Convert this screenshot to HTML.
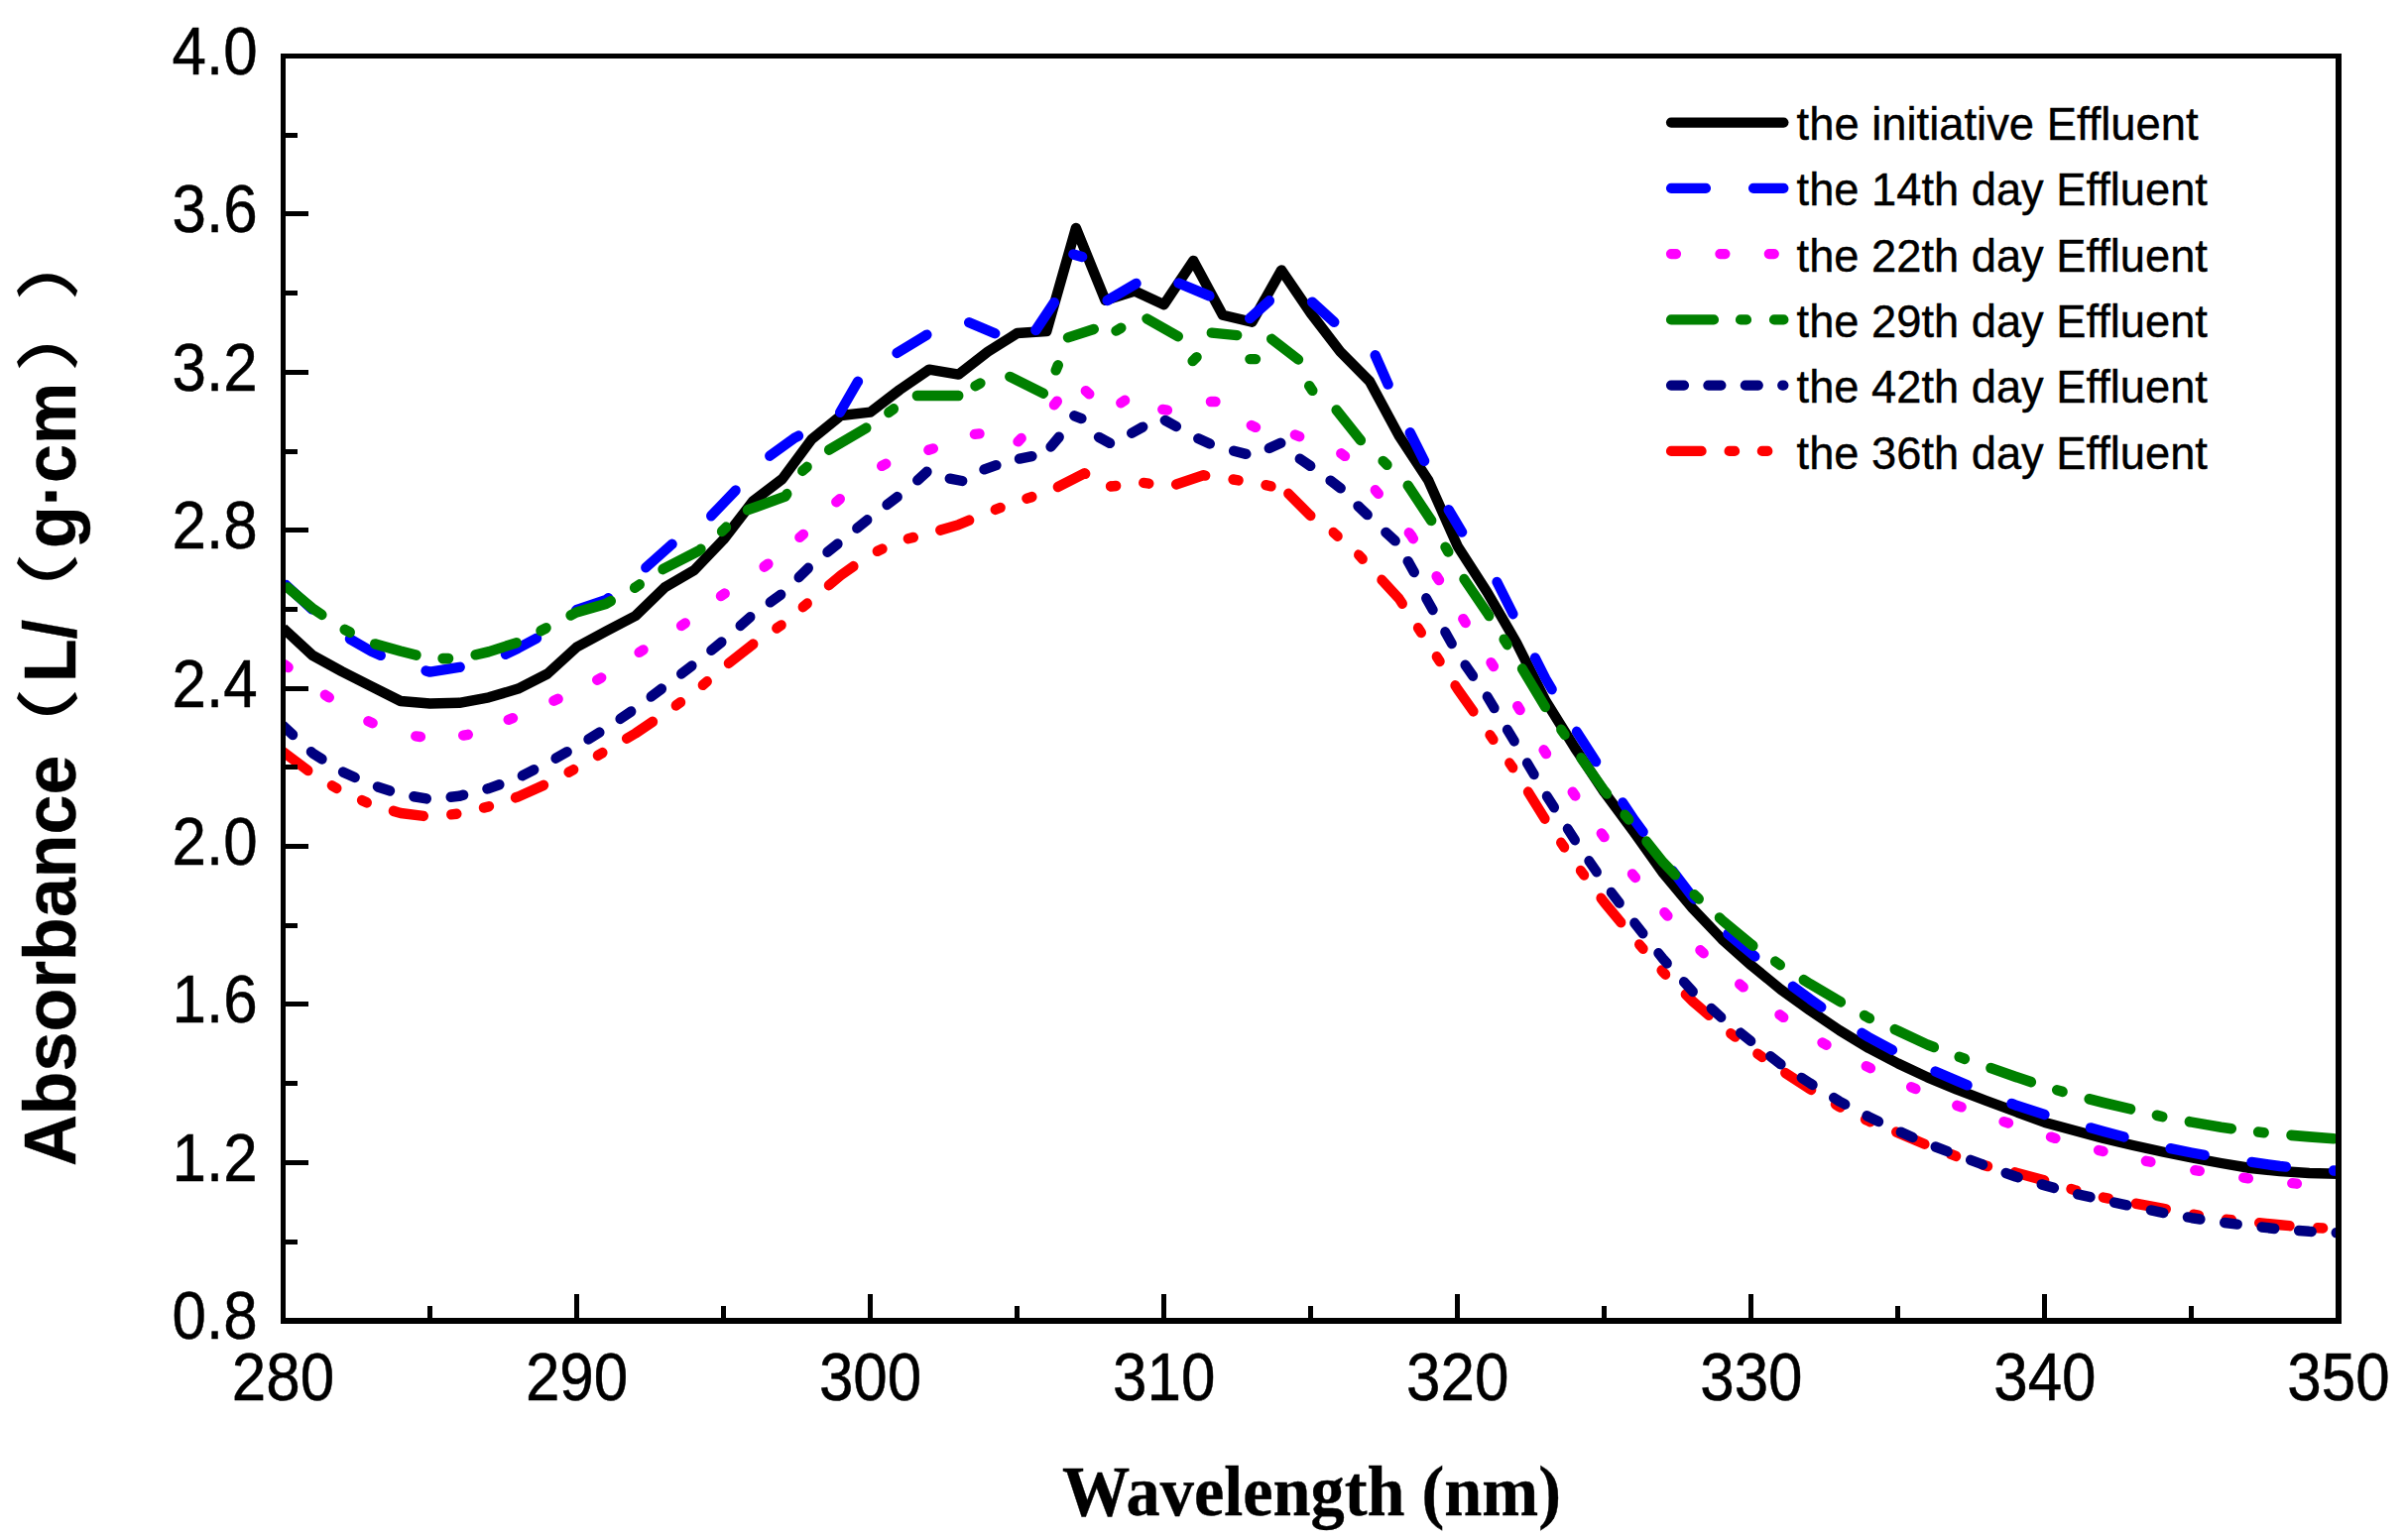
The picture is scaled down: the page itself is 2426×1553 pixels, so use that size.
<!DOCTYPE html>
<html lang="en"><head><meta charset="utf-8"><title>UV absorbance of effluent</title>
<style>html,body{margin:0;padding:0;background:#fff}body{width:2426px;height:1553px;overflow:hidden}svg{display:block}text{fill:#000}</style></head><body>
<svg width="2426" height="1553" viewBox="0 0 2426 1553">
<rect width="2426" height="1553" fill="#fff"/>
<defs><clipPath id="plot"><rect x="285.5" y="56.5" width="2072.5" height="1275.3"/></clipPath></defs>
<g clip-path="url(#plot)" fill="none" stroke-linejoin="round">
<polyline id="c-black" points="285.5,633.5 315.1,660.9 344.7,677.1 374.3,692.1 403.9,707.0 433.5,709.5 463.1,708.8 492.8,703.3 522.4,694.6 552.0,679.5 581.6,652.5 611.2,636.5 640.8,621.0 670.4,592.3 700.0,575.0 729.6,544.0 759.2,505.5 788.8,483.0 818.4,443.0 848.0,419.0 877.6,415.7 907.2,393.0 936.9,372.6 966.5,377.6 996.1,354.6 1025.7,336.0 1055.3,334.0 1084.9,230.0 1114.5,302.9 1144.1,293.5 1173.7,307.2 1203.3,262.9 1232.9,317.8 1262.5,324.7 1292.1,272.4 1321.8,316.0 1351.4,354.6 1381.0,384.5 1410.6,439.4 1440.2,484.3 1469.8,551.0 1499.4,597.0 1529.0,648.0 1558.6,707.0 1588.2,754.5 1617.8,799.0 1647.4,839.0 1677.0,880.5 1706.6,916.0 1736.2,947.0 1765.9,973.5 1795.5,997.7 1825.1,1019.0 1854.7,1039.0 1884.3,1057.0 1913.9,1072.5 1943.5,1086.4 1973.1,1098.7 2002.7,1110.0 2032.3,1121.0 2061.9,1132.0 2091.5,1140.0 2121.1,1148.0 2150.8,1155.0 2180.4,1161.5 2210.0,1167.5 2239.6,1173.0 2269.2,1178.0 2298.8,1181.0 2328.4,1183.0 2358.0,1183.8" stroke="#000000" stroke-width="10.4" stroke-linecap="butt"/>
<g id="c-blue" stroke="#0000ff" stroke-linecap="round">
<g transform="scale(1,1.040)" stroke-width="10" stroke-dasharray="35 48">
<polyline points="285.5,564.71 315.1,591.15 344.7,615.10 374.3,631.44 403.9,643.85 433.5,651.54 463.1,647.02 492.8,642.31 522.4,628.56 552.0,613.46 581.6,591.35 611.2,581.73 642.3,557.98 677.2,528.01 712.1,505.23 739.6,477.65 773.2,444.08 800.7,424.90 845.6,402.12 864.8,370.23 900.4,344.57 930.3,327.07 936.6,323.47" stroke-dashoffset="-4"/>
<polyline points="1509.4,564.33 1529.0,601.92 1558.6,658.27 1588.2,707.02 1617.8,751.35 1647.4,794.52 1677.0,832.50 1706.6,869.71 1736.2,900.77 1765.9,924.52 1795.5,947.98 1825.1,968.85 1854.7,988.75 1884.3,1005.77 1913.9,1021.15 1943.5,1035.58 1973.1,1047.98 2002.7,1060.00 2032.3,1071.63 2061.9,1080.77 2091.5,1089.23 2121.1,1097.12 2150.8,1104.81 2180.4,1112.12 2210.0,1117.79 2239.6,1122.79 2269.2,1126.73 2298.8,1130.77 2328.4,1133.46 2358.0,1135.38" stroke-dashoffset="0"/>
</g>
<path d="M977.2 325.3L1003.2 336.3M1044.4 333.0L1062.9 305.2M1082.4 256.4L1091.1 259.0M1116.6 303.0L1145.5 285.9M1188.5 285.5L1219.4 298.4M1260.2 321.1L1279.9 303.3M1323.1 304.6L1345.3 324.8M1386.7 358.3L1399.6 387.6M1421.8 436.3L1436.1 464.9M1460.7 514.2L1474.1 536.6" stroke-width="10.4"/>
</g>
<g id="c-magenta" stroke="#ff00ff" stroke-linecap="round">
<path d="M286.9 670.3L290.6 673.0M327.9 700.8L331.8 703.3M371.4 727.3L375.6 729.2M419.3 742.4L423.9 743.0M467.2 741.6L471.8 740.8M512.7 725.8L517.0 724.2M558.4 706.7L562.6 704.8M602.2 685.7L606.2 683.4M644.6 657.9L648.5 655.4M687.1 631.0L690.8 628.4M727.0 601.1L730.7 598.5M770.6 571.2L774.4 568.6M770.7 571.8L774.3 568.9M806.4 541.9L809.9 538.9M843.3 506.2L846.8 503.2M889.2 469.9L893.2 467.7M936.4 453.8L940.8 452.4M982.9 437.9L987.5 437.4M1026.5 445.3L1029.7 442.0M1063.0 408.3L1065.8 404.7M1094.8 394.2L1098.3 397.3M1130.3 406.3L1134.1 403.7M1172.3 412.9L1176.9 413.6M1220.9 405.0L1225.5 405.0M1261.8 429.0L1266.0 430.9M1305.9 438.5L1310.2 440.3M1352.3 457.3L1356.0 459.9M1386.8 494.3L1389.8 497.8M1420.8 537.3L1423.7 541.0M1422.4 539.3L1424.9 543.2M1448.6 581.2L1451.0 585.1M1475.3 624.1L1477.7 628.0M1503.5 668.2L1505.9 672.1M1530.2 712.1L1532.6 716.0M1556.6 756.3L1559.0 760.1M1585.7 798.7L1588.3 802.5M1614.8 840.4L1617.5 844.1M1646.0 881.4L1648.9 885.0M1678.4 920.1L1681.4 923.6M1714.4 958.2L1717.7 961.3M1754.2 992.5L1757.7 995.4M1794.5 1023.3L1798.2 1025.9M1837.5 1051.4L1841.5 1053.7M1881.8 1075.2L1885.9 1077.2M1927.2 1096.2L1931.4 1098.1M1973.3 1114.8L1977.6 1116.4M2020.6 1131.1L2025.0 1132.5M2068.0 1146.6L2072.4 1147.9M2116.1 1159.9L2120.5 1161.1M2163.9 1170.8L2168.4 1171.7M2213.3 1180.1L2217.8 1180.8M2262.3 1187.7L2266.9 1188.3M2311.3 1193.2L2315.9 1193.7" stroke-width="10.4"/>
</g>
<g id="c-green" stroke="#008000" stroke-linecap="round">
<g transform="scale(1,1.060)" stroke-width="10" stroke-dasharray="43 27 6 27.5">
<polyline points="285.5,555.28 315.1,578.77 344.7,597.64 374.3,611.70 403.9,619.53 433.5,626.51 463.1,626.51 492.8,620.00 522.4,611.04 552.0,596.89 581.6,582.36 611.2,574.34 640.8,558.77 663.5,543.92 704.7,523.93 726.6,506.75 747.1,487.46 791.9,472.17 808.2,448.64 830.6,431.00 873.0,407.47 895.4,392.89 919.1,376.42 966.5,376.42" stroke-dashoffset="-6"/>
<polyline points="1476.3,550.94 1499.4,582.83 1529.0,627.08 1558.6,673.40 1588.2,712.92 1617.8,752.45 1647.4,785.19 1677.0,820.38 1706.6,849.62 1736.2,875.28 1765.9,898.58 1795.5,918.40 1825.1,936.04 1854.7,952.45 1884.3,968.49 1913.9,980.75 1943.5,993.87 1973.1,1004.72 2002.7,1014.62 2032.3,1024.43 2061.9,1033.68 2091.5,1041.89 2121.1,1049.06 2150.8,1055.66 2180.4,1062.36 2210.0,1067.55 2239.6,1072.45 2269.2,1076.13 2298.8,1079.15 2328.4,1081.51 2358.0,1083.58" stroke-dashoffset="0"/>
</g>
<path d="M983.5 389.2L988.4 386.4M1018.3 379.9L1051.9 396.7M1064.7 373.4L1066.8 368.2M1077.0 340.4L1102.8 332.0M1125.5 333.6L1130.3 330.7M1156.5 321.4L1187.8 339.2M1202.6 364.1L1206.6 360.1M1221.8 335.6L1247.2 338.1M1260.4 362.1L1266.0 362.1M1282.2 341.8L1309.0 362.5M1320.2 389.2L1323.3 393.9M1347.6 413.5L1371.9 444.1M1394.6 464.9L1398.5 468.8M1419.7 489.7L1443.2 525.0M1457.5 551.7L1460.3 556.6" stroke-width="10.4"/>
</g>
<g id="c-red" stroke="#ff0000" stroke-linecap="round">
<g transform="scale(1,1.050)" stroke-width="10" stroke-dasharray="30.8 28.2 5.5 27.9 5.5 27.95">
<polyline points="285.5,722.10 315.1,743.43 344.7,760.10 374.3,772.67 403.9,780.95 433.5,784.48 463.1,781.43 492.8,774.57 522.4,765.24 552.0,752.48 581.6,737.52 611.2,720.86 640.8,704.29 670.4,685.24 700.0,665.05 729.6,640.86 759.2,618.76 788.8,599.71 818.4,576.00 848.0,552.38 877.6,532.48 907.2,519.43 936.9,512.29 966.5,504.00 996.1,492.10 1025.7,481.43 1055.4,473.10 1093.6,454.58 1120.2,467.17 1152.2,463.60 1179.6,467.17 1213.3,456.48 1240.7,460.04 1274.4,465.50 1290.6,468.83" stroke-dashoffset="0"/>
<polyline points="1299.1,474.05 1320.5,494.48 1344.2,511.10 1369.1,532.00 1389.1,552.67 1410.6,574.86 1440.2,618.10 1469.8,662.00 1499.4,701.90 1529.0,742.29 1558.6,787.90 1588.2,828.95 1617.8,866.95 1647.4,900.95 1677.0,933.71 1706.6,961.52 1736.2,986.00 1765.9,1007.90 1795.5,1027.62 1825.1,1045.90 1854.7,1062.95 1884.3,1076.76 1913.9,1087.90 1943.5,1100.00 1973.1,1110.67 2002.7,1119.71 2032.3,1126.19 2061.9,1133.81 2091.5,1142.86 2121.1,1150.10 2150.8,1155.43 2180.4,1160.57 2210.0,1166.19 2239.6,1170.67 2269.2,1173.71 2298.8,1176.48 2328.4,1178.86 2358.0,1180.19" stroke-dashoffset="0"/>
</g>
</g>
<g id="c-navy" stroke="#000080" stroke-linecap="round">
<g transform="scale(1,1.050)" stroke-width="10" stroke-dasharray="13 24.65">
<polyline points="285.5,697.14 315.1,723.24 344.7,741.05 374.3,753.62 403.9,762.86 433.5,767.62 463.1,764.57 492.8,757.24 522.4,746.95 552.0,732.76 581.6,716.86 611.2,699.52 640.8,680.48 670.4,659.14 700.0,637.71 729.6,615.14 759.2,590.29 788.8,570.10 818.4,542.38 848.0,519.81 877.6,496.86 907.2,475.52 912.9,471.92" stroke-dashoffset="0"/>
<polyline points="1438.1,574.57 1469.8,628.29 1499.4,668.67 1529.0,715.24 1558.6,762.95 1588.2,807.14 1617.8,848.48 1647.4,885.52 1677.0,921.14 1706.6,952.10 1736.2,977.71 1765.9,1000.29 1795.5,1022.10 1825.1,1040.38 1854.7,1057.71 1884.3,1072.67 1913.9,1086.19 1943.5,1098.57 1973.1,1109.24 2002.7,1119.71 2032.3,1130.00 2061.9,1138.48 2091.5,1146.29 2121.1,1152.57 2150.8,1158.76 2180.4,1164.67 2210.0,1169.71 2239.6,1173.81 2269.2,1177.43 2298.8,1180.48 2328.4,1182.67 2358.0,1184.10" stroke-dashoffset="0"/>
</g>
<path d="M925.2 484.3L934.5 475.8M957.8 482.6L970.2 485.0M992.5 473.4L1004.4 469.2M1028.0 462.6L1040.4 460.1M1059.6 450.5L1067.7 440.8M1083.3 419.3L1090.4 422.1M1108.0 440.9L1119.0 446.9M1141.2 436.7L1152.2 430.6M1174.8 423.9L1185.9 430.0M1208.3 442.3L1219.8 447.5M1244.1 454.8L1256.3 457.9M1279.8 452.0L1291.3 446.8M1310.8 462.7L1321.2 469.9M1341.6 484.7L1351.7 492.3M1369.5 510.4L1378.7 519.1M1397.4 536.9L1406.7 545.4M1419.7 566.1L1425.8 577.1" stroke-width="10.4"/>
</g>
</g>
<g fill="#000" shape-rendering="crispEdges">
<path d="M283 54H2361V1335H283ZM288 59V1329H2355V59Z" fill-rule="evenodd"/>
<path d="M288 1250H300V1255H288ZM288 1170H311V1175H288ZM288 1090H300V1095H288ZM288 1010H311V1015H288ZM288 931H300V936H288ZM288 851H311V856H288ZM288 771H300V776H288ZM288 692H311V697H288ZM288 612H300V617H288ZM288 532H311V537H288ZM288 453H300V458H288ZM288 373H311V378H288ZM288 293H300V298H288ZM288 213H311V218H288ZM288 134H300V139H288ZM431 1329V1317H436V1329ZM579 1329V1305H584V1329ZM727 1329V1317H732V1329ZM875 1329V1305H880V1329ZM1023 1329V1317H1028V1329ZM1171 1329V1305H1176V1329ZM1319 1329V1317H1324V1329ZM1467 1329V1305H1472V1329ZM1615 1329V1317H1620V1329ZM1763 1329V1305H1768V1329ZM1911 1329V1317H1916V1329ZM2059 1329V1305H2064V1329ZM2207 1329V1317H2212V1329Z"/>
</g>
<g font-family="'Liberation Sans', Arial, Helvetica, sans-serif" font-size="68.5" text-anchor="end" stroke="#000" stroke-width="0.5">
<text x="259.6" y="1350.2" textLength="86" lengthAdjust="spacingAndGlyphs">0.8</text>
<text x="259.6" y="1190.8" textLength="86" lengthAdjust="spacingAndGlyphs">1.2</text>
<text x="259.6" y="1031.4" textLength="86" lengthAdjust="spacingAndGlyphs">1.6</text>
<text x="259.6" y="872.0" textLength="86" lengthAdjust="spacingAndGlyphs">2.0</text>
<text x="259.6" y="712.5" textLength="86" lengthAdjust="spacingAndGlyphs">2.4</text>
<text x="259.6" y="553.1" textLength="86" lengthAdjust="spacingAndGlyphs">2.8</text>
<text x="259.6" y="393.7" textLength="86" lengthAdjust="spacingAndGlyphs">3.2</text>
<text x="259.6" y="234.3" textLength="86" lengthAdjust="spacingAndGlyphs">3.6</text>
<text x="259.6" y="74.9" textLength="86" lengthAdjust="spacingAndGlyphs">4.0</text>
</g>
<g font-family="'Liberation Sans', Arial, Helvetica, sans-serif" font-size="68.5" text-anchor="middle" stroke="#000" stroke-width="0.5">
<text x="285.5" y="1411.6" textLength="103.4" lengthAdjust="spacingAndGlyphs">280</text>
<text x="581.6" y="1411.6" textLength="103.4" lengthAdjust="spacingAndGlyphs">290</text>
<text x="877.6" y="1411.6" textLength="103.4" lengthAdjust="spacingAndGlyphs">300</text>
<text x="1173.7" y="1411.6" textLength="103.4" lengthAdjust="spacingAndGlyphs">310</text>
<text x="1469.8" y="1411.6" textLength="103.4" lengthAdjust="spacingAndGlyphs">320</text>
<text x="1765.9" y="1411.6" textLength="103.4" lengthAdjust="spacingAndGlyphs">330</text>
<text x="2061.9" y="1411.6" textLength="103.4" lengthAdjust="spacingAndGlyphs">340</text>
<text x="2358.0" y="1411.6" textLength="103.4" lengthAdjust="spacingAndGlyphs">350</text>
</g>
<text x="1322.5" y="1527.5" font-family="'Liberation Serif', 'Times New Roman', Times, serif" font-weight="bold" font-size="72.5" text-anchor="middle" stroke="#000" stroke-width="0.4" textLength="503" lengthAdjust="spacingAndGlyphs">Wavelength (nm)</text>
<g transform="rotate(-90)" font-family="'Liberation Sans', 'Noto Sans CJK SC', sans-serif" font-weight="bold" font-size="75" stroke="#000" stroke-width="0.4">
<text x="-1176" y="76.3" textLength="414.3" lengthAdjust="spacingAndGlyphs">Absorbance</text>
<text transform="translate(-778.9,71.8) scale(1.33,1)" font-size="64" font-weight="500" stroke="none">（</text>
<text x="-688.1" y="76.3" textLength="63.3" lengthAdjust="spacingAndGlyphs">L/</text>
<text transform="translate(-642.8,71.8) scale(1.33,1)" font-size="64" font-weight="500" stroke="none">（</text>
<text x="-553" y="76.3" textLength="167.3" lengthAdjust="spacingAndGlyphs">g·cm</text>
<text transform="translate(-375.0,71.8) scale(1.33,1)" font-size="64" font-weight="500" stroke="none">）</text>
<text transform="translate(-303.2,71.8) scale(1.33,1)" font-size="64" font-weight="500" stroke="none">）</text>
</g>
<g fill="none" stroke-width="10.2" stroke-linecap="round">
<path d="M1685 123.6H1798.4" stroke="#000000"/>
<path d="M1685 189.8H1798.4" stroke="#0000ff" stroke-dasharray="35 48"/>
<path d="M1685 256.1H1798.4" stroke="#ff00ff" stroke-dasharray="5 44.4"/>
<path d="M1685 322.4H1798.4" stroke="#008000" stroke-dasharray="43 27 6 28"/>
<path d="M1685 388.6H1798.4" stroke="#000080" stroke-dasharray="13 24.4"/>
<path d="M1685 454.9H1798.4" stroke="#ff0000" stroke-dasharray="30.6 28 5.5 27.7 5.5 27.7"/>
</g>
<g font-family="'Liberation Sans', Arial, Helvetica, sans-serif" font-size="46.8" stroke="#000" stroke-width="0.4" lengthAdjust="spacingAndGlyphs">
<text x="1811.6" y="141.2" textLength="405.0" lengthAdjust="spacingAndGlyphs">the initiative Effluent</text>
<text x="1811.6" y="207.4" textLength="414.3" lengthAdjust="spacingAndGlyphs">the 14th day Effluent</text>
<text x="1811.6" y="273.7" textLength="414.3" lengthAdjust="spacingAndGlyphs">the 22th day Effluent</text>
<text x="1811.6" y="340.0" textLength="414.3" lengthAdjust="spacingAndGlyphs">the 29th day Effluent</text>
<text x="1811.6" y="406.2" textLength="414.3" lengthAdjust="spacingAndGlyphs">the 42th day Effluent</text>
<text x="1811.6" y="472.5" textLength="414.3" lengthAdjust="spacingAndGlyphs">the 36th day Effluent</text>
</g>
</svg></body></html>
